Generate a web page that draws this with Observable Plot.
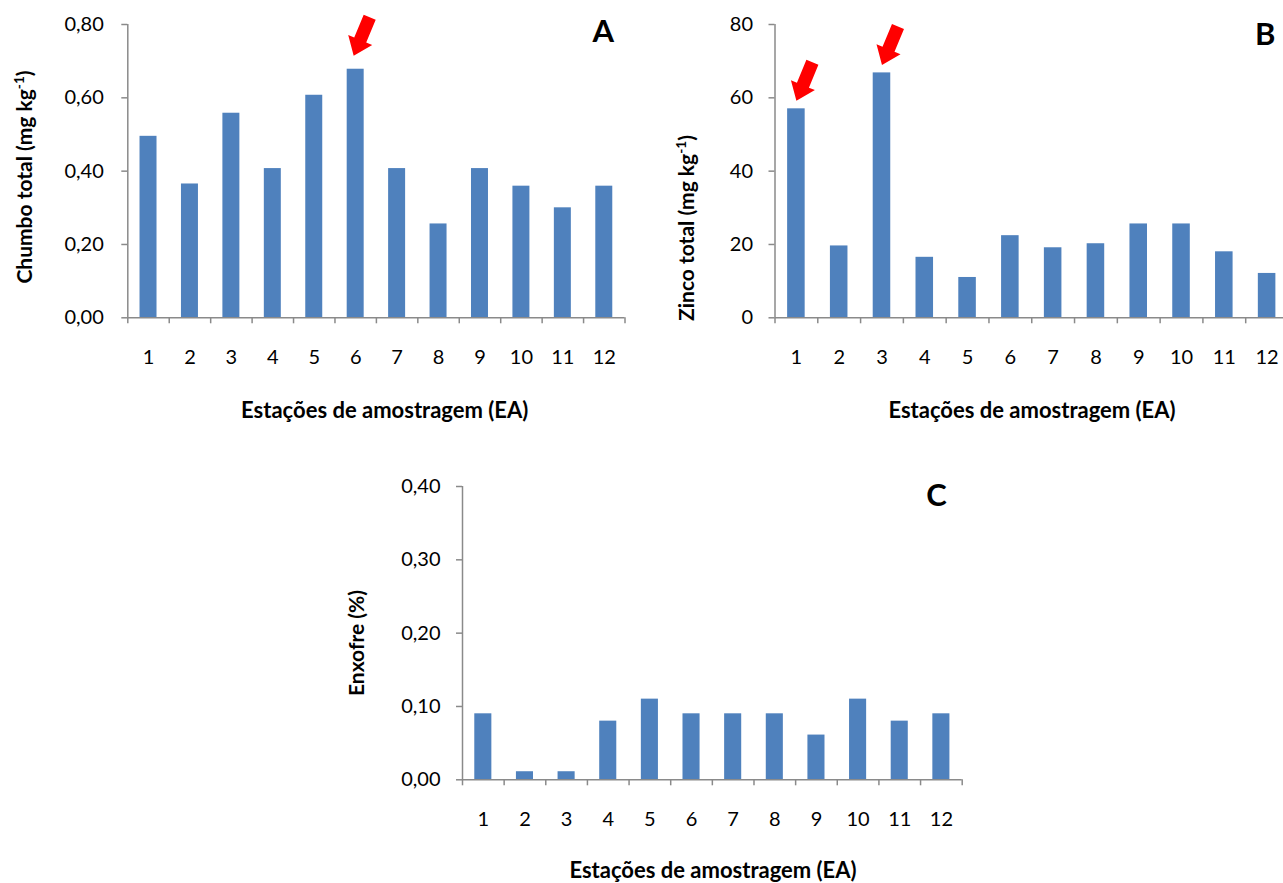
<!DOCTYPE html>
<html><head><meta charset="utf-8">
<script src="https://cdn.jsdelivr.net/npm/d3@7"></script>
<script src="https://cdn.jsdelivr.net/npm/@observablehq/plot@0.6"></script>
<style>
html,body{margin:0;padding:0;background:#fff;overflow:hidden;width:1283px;height:883px;}
#wrap{position:relative;width:1283px;height:883px;overflow:hidden;background:#fff;}
.panel{position:absolute;}
.panel svg{max-width:none !important;}
</style></head><body><div id="wrap"></div>
<script>
// ---- data ----
const stations = [1,2,3,4,5,6,7,8,9,10,11,12];
const chumbo  = [0.495,0.365,0.558,0.407,0.607,0.678,0.407,0.256,0.407,0.359,0.300,0.359];
const zinco   = [57.0,19.6,66.8,16.5,11.0,22.4,19.1,20.2,25.6,25.6,18.0,12.1];
const enxofre = [0.090,0.011,0.011,0.080,0.110,0.090,0.090,0.090,0.061,0.110,0.080,0.090];
const ticksA = [0,0.2,0.4,0.6,0.8];
const ticksB = [0,20,40,60,80];
const ticksC = [0,0.1,0.2,0.3,0.4];
const highlightA = [6];
const highlightB = [1,3];
const highlightC = [];
const xTitle = "Estações de amostragem (EA)";
const yTitleA = ["Chumbo total (mg kg", "-1", ")"];
const yTitleB = ["Zinco total (mg kg", "-1", ")"];
const yTitleC = ["Enxofre (%)"];

// ---- styles ----
const BAR = "#4F81BD", AX = "#8a8a8a", FONT = "Lato, 'Open Sans', sans-serif";
const boundaries = d3.range(0.5, 13, 1);
const comma2 = v => d3.format(".2f")(v).replace(".", ",");

// red block arrow, tip at origin, tail up-right
const ux = 0.384, uy = -0.923, vx = 0.923, vy = 0.384;
const arrowSymbol = {
  draw(ctx) {
    const L = 41.7, H = 17, W = 13, S = 6.5;
    const p = (a, b) => [a*ux + b*vx, a*uy + b*vy];
    const pts = [p(0,0), p(H,W), p(H,S), p(L,S), p(L,-S), p(H,-S), p(H,-W)];
    ctx.moveTo(...pts[0]);
    for (let i = 1; i < pts.length; i++) ctx.lineTo(...pts[i]);
    ctx.closePath();
  }
};

function addText(svg, x, y, parts, {rotate = 0, size = 22} = {}) {
  const t = d3.select(svg).append("text")
    .attr("transform", `translate(${x},${y}) rotate(${rotate})`)
    .attr("text-anchor", "middle")
    .attr("font-family", FONT).attr("font-weight", "bold")
    .attr("font-size", size).attr("fill", "#000")
    .attr("y", "0.36em");
  t.append("tspan").text(parts[0]);
  if (parts.length > 1) {
    t.append("tspan").attr("dy", -8).attr("font-size", size * 0.65).text(parts[1]);
    t.append("tspan").attr("dy", 8).text(parts[2]);
  }
}

function panel(o) {
  const data = stations.map((s, i) => ({s, v: o.values[i]}));
  const hl = data.filter(d => o.highlight.includes(d.s));
  const plot = Plot.plot({
    width: o.width, height: o.height,
    marginLeft: o.mL, marginRight: o.mR, marginTop: o.mT, marginBottom: o.mB,
    x: {domain: [0.5, 12.5], axis: null, label: null},
    y: {domain: o.yDomain, axis: null, label: null},
    style: {fontFamily: FONT, background: "transparent", overflow: "visible", maxWidth: "none"},
    marks: [
      Plot.rectY(data, {x1: d => d.s - 0.205, x2: d => d.s + 0.205, y: "v", fill: BAR}),
      Plot.ruleX([0.5], {stroke: AX, strokeWidth: 1.5}),
      Plot.ruleY([o.yDomain[0]], {stroke: AX, strokeWidth: 1.5}),
      Plot.axisY({ticks: o.yTicks, tickFormat: o.yFmt, tickSize: 6, tickPadding: o.tickPad,
        fontSize: 20, stroke: AX, strokeWidth: 1.5, fill: "#000", label: null}),
      Plot.axisX({ticks: boundaries, tickFormat: () => "", tickSize: 6, stroke: AX,
        strokeWidth: 1.5, label: null}),
      Plot.text(stations, {x: d => d, frameAnchor: "bottom", dy: 39.4, text: d => String(d),
        fontSize: 20, fill: "#000", lineAnchor: "middle"}),
      Plot.dot(hl, {x: "s", y: "v", symbol: arrowSymbol, fill: "#ff0000", stroke: "none",
        dy: -o.gap, dx: o.arrowDx}),
      Plot.text([o.letter], {frameAnchor: "top-right", dx: o.letterDx, dy: o.letterDy,
        text: d => d, fontSize: 31, fontWeight: "bold", fill: "#000", textAnchor: "middle",
        lineAnchor: "middle"})
    ]
  });
  addText(plot, o.xTitlePos[0], o.xTitlePos[1], [xTitle]);
  addText(plot, o.yTitlePos[0], o.yTitlePos[1], o.yTitle, {rotate: -90, size: 21});
  const div = document.createElement("div");
  div.className = "panel";
  div.style.left = o.left + "px"; div.style.top = o.top + "px";
  div.style.width = o.width + "px"; div.style.height = o.height + "px";
  div.appendChild(plot);
  document.getElementById("wrap").appendChild(div);
}

panel({values: chumbo, yTicks: ticksA, yFmt: comma2, yDomain: [0, 0.8],
  left: 0, top: 0, width: 640, height: 420, mL: 127.3, mR: 15.5, mT: 24, mB: 102.7, tickPad: 18,
  highlight: highlightA, gap: 13.5, arrowDx: -2, letter: "A", letterDx: -21.7, letterDy: 7.5,
  xTitlePos: [384.7, 410], yTitlePos: [24, 177], yTitle: yTitleA});

panel({values: zinco, yTicks: ticksB, yFmt: d => String(d), yDomain: [0, 80],
  left: 640, top: 0, width: 660, height: 420, mL: 134.5, mR: 12, mT: 24, mB: 102.7, tickPad: 16,
  highlight: highlightB, gap: 8, arrowDx: 0, letter: "B", letterDx: -23.4, letterDy: 11,
  xTitlePos: [392, 410], yTitlePos: [46, 228], yTitle: yTitleB});

panel({values: enxofre, yTicks: ticksC, yFmt: comma2, yDomain: [0, 0.4],
  left: 340, top: 440, width: 640, height: 443, mL: 122, mR: 18.3, mT: 46, mB: 103.7, tickPad: 16,
  highlight: highlightC, gap: 8, arrowDx: 0, letter: "C", letterDx: -25.7, letterDy: 9.5,
  xTitlePos: [373, 430], yTitlePos: [16, 203], yTitle: yTitleC});
</script></body></html>
